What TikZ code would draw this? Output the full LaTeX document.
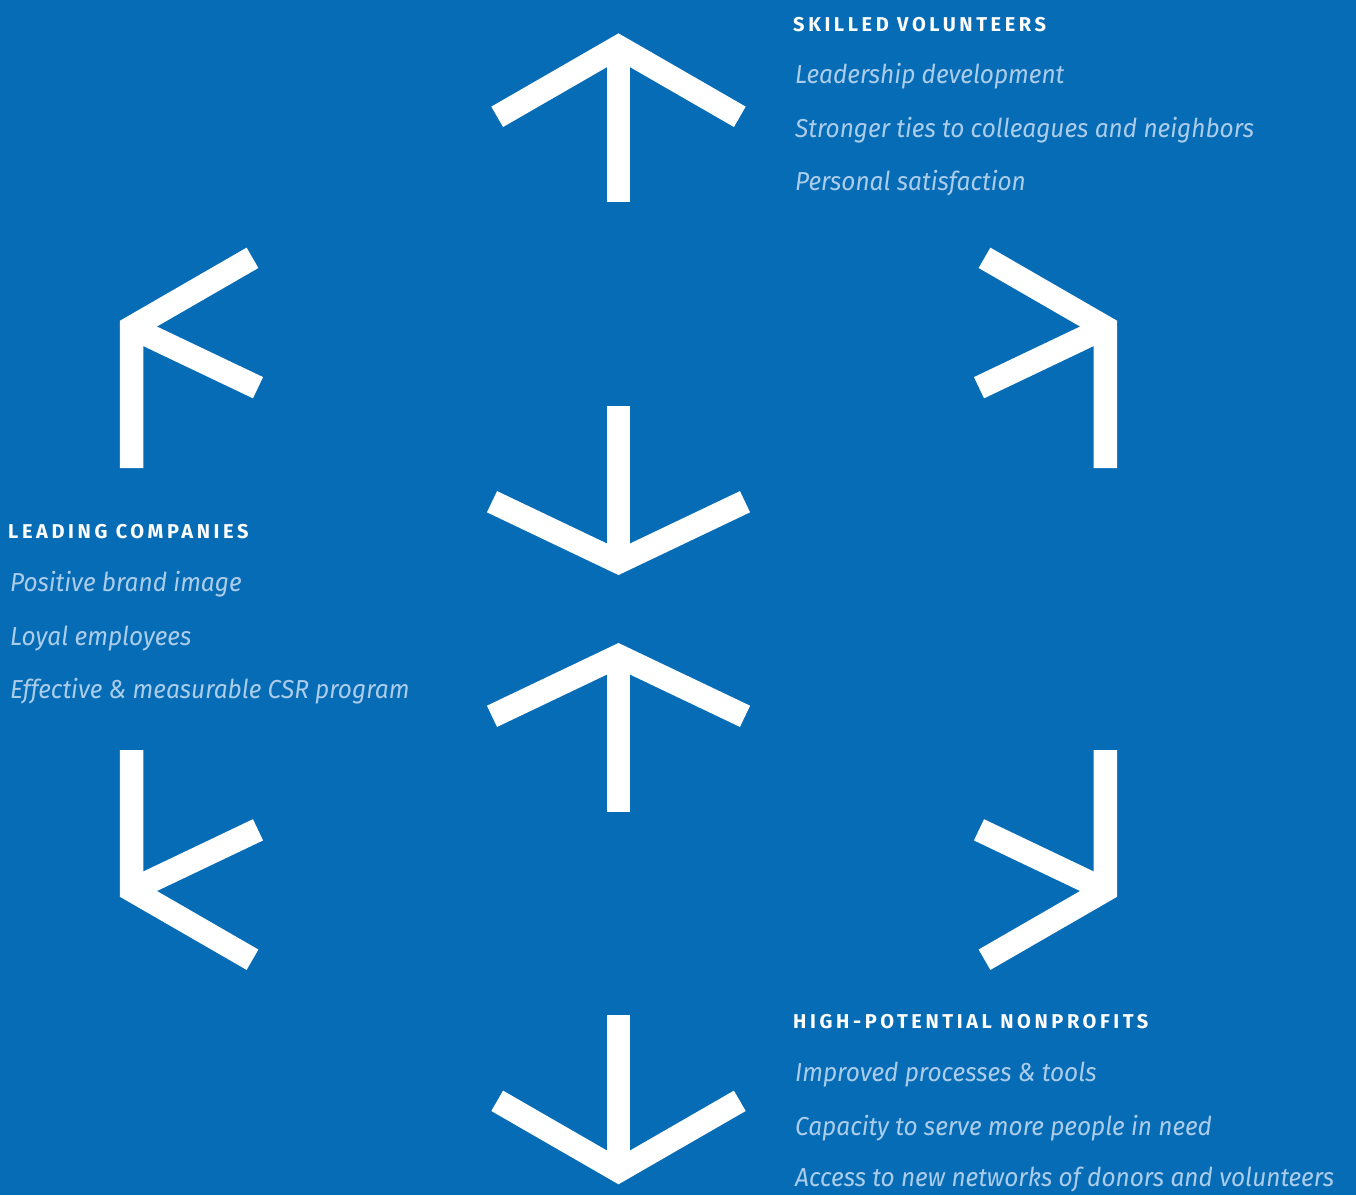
\documentclass[tikz,border=0pt]{standalone}
\usepackage{fontspec}
\setmainfont{Fira Sans}
\newfontfamily\headfont[LetterSpace=18]{Fira Sans}
\newfontfamily\itemfont[FakeStretch=0.94]{Fira Sans}
\definecolor{bg}{RGB}{6,108,182}
\definecolor{lb}{RGB}{172,205,234}
\tikzset{
  arrowline/.style={draw=white, line width=23.5pt, line join=miter, miter limit=10, line cap=butt},
  head/.style={anchor=base west, inner sep=0pt, text=white, font=\headfont\bfseries\fontsize{20}{20}\selectfont},
  item/.style={anchor=base west, inner sep=0pt, text=lb, font=\itemfont\itshape\fontsize{26}{26}\selectfont}
}
\begin{document}
\begin{tikzpicture}[x=1pt,y=-1pt]
\fill[bg] (0,0) rectangle (1356,1195);
\useasboundingbox (0,0) rectangle (1356,1195);
% apex coordinates
\coordinate (Ta) at (618.5,46.9);
\coordinate (MDa) at (618.5,562);
\coordinate (MUa) at (618.5,656);
\coordinate (BDa) at (618.5,1170.7);
\coordinate (LTa) at (131.7,327.5);
\coordinate (RTa) at (1105.3,327.5);
\coordinate (LBa) at (131.7,890);
\coordinate (RBa) at (1105.3,890);
% top arrow
\draw[arrowline] (497.2,116.8) -- (Ta) -- (739.8,116.8);
\draw[arrowline] (Ta) -- (618.5,202);
% middle down
\draw[arrowline] (492,501.7) -- (MDa) -- (745,501.7);
\draw[arrowline] (MDa) -- (618.5,406);
% middle up
\draw[arrowline] (492,716.3) -- (MUa) -- (745,716.3);
\draw[arrowline] (MUa) -- (618.5,811.7);
% bottom down
\draw[arrowline] (497.2,1100.8) -- (BDa) -- (739.8,1100.8);
\draw[arrowline] (BDa) -- (618.5,1015);
% left top
\draw[arrowline] (252.5,257.8) -- (LTa) -- (131.7,468);
\draw[arrowline] (LTa) -- (258,387.7);
% right top
\draw[arrowline] (984.5,257.8) -- (RTa) -- (1105.3,468);
\draw[arrowline] (RTa) -- (979,387.7);
% left bottom
\draw[arrowline] (252.5,959.7) -- (LBa) -- (131.7,750);
\draw[arrowline] (LBa) -- (258,829.8);
% right bottom
\draw[arrowline] (984.5,959.7) -- (RBa) -- (1105.3,750);
\draw[arrowline] (RBa) -- (979,829.8);
% texts
\node[head] (h1) at (793,31) {SKILLED VOLUNTEERS};
\node[item] (t11) at (795,83.5) {Leadership development};
\node[item] (t12) at (795,137) {Stronger ties to colleagues and neighbors};
\node[item] (t13) at (795,190.5) {Personal satisfaction};
\node[head] (h2) at (8,538.3) {LEADING COMPANIES};
\node[item] (t21) at (10,591.7) {Positive brand image};
\node[item] (t22) at (10,645) {Loyal employees};
\node[item] (t23) at (10,698.3) {Effective \& measurable CSR program};
\node[head] (h3) at (793,1028.3) {HIGH-POTENTIAL NONPROFITS};
\node[item] (t31) at (795,1081.7) {Improved processes \& tools};
\node[item] (t32) at (795,1135) {Capacity to serve more people in need};
\node[item] (t33) at (795,1186.7) {Access to new networks of donors and volunteers};
\end{tikzpicture}
\end{document}
